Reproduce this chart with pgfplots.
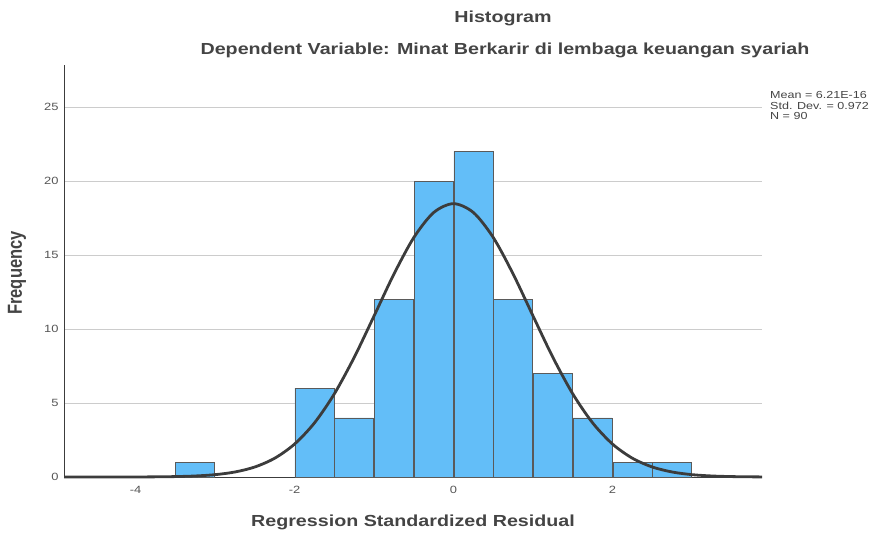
\documentclass[border=0pt]{standalone}
\usepackage{pgfplots}
\pgfplotsset{compat=1.18}
\usepackage{fontspec}
\setmainfont{Liberation Sans}[FakeStretch=1.23]
\newfontfamily\plainfont{Liberation Sans}
\definecolor{barblue}{HTML}{63BEF8}
\definecolor{baredge}{HTML}{5A5A5A}
\definecolor{curvegray}{HTML}{3C3C3C}
\definecolor{txtgray}{HTML}{444444}
\definecolor{ticktxt}{HTML}{555555}
\definecolor{gridgray}{HTML}{CCCCCC}
\begin{document}
\begin{tikzpicture}
\useasboundingbox (0pt,0pt) rectangle (874pt,536pt);
\begin{axis}[
  at={(64pt,59pt)}, anchor=south west,
  scale only axis, width=698pt, height=412pt,
  xmin=-4.9, xmax=3.88, ymin=0, ymax=27.84,
  axis x line*=bottom, axis y line*=left,
  axis line style={-, draw=curvegray, line width=0.8pt},
  xtick={-4,-2,0,2}, ytick={0,5,10,15,20,25},
  major tick length=0pt,
  ymajorgrids, grid style={draw=gridgray, line width=0.6pt},
  /pgf/number format/assume math mode=true,
  ticklabel style={font=\fontsize{10.5}{12}\selectfont, text=ticktxt},
  xticklabel style={yshift=-6pt},
  yticklabel style={xshift=-2pt},
  clip=false,
]
\addplot[ybar, bar width=0.49, fill=barblue, draw=baredge, line width=0.6pt] coordinates {
  (-3.25,1) (-1.75,6) (-1.25,4) (-0.75,12) (-0.25,20) (0.25,22)
  (0.75,12) (1.25,7) (1.75,4) (2.25,1) (2.75,1)
};
\addplot[smooth, draw=curvegray, line width=2.8pt] coordinates {
  (-4.9,0) (-4.5,0.0001) (-4,0.0039) (-3.75,0.0108) (-3.5,0.0283) (-3.25,0.069)
  (-3,0.158) (-2.75,0.338) (-2.5,0.676) (-2.25,1.268) (-2,2.224) (-1.75,3.653)
  (-1.5,5.615) (-1.25,8.079) (-1,10.88) (-0.75,13.71) (-0.5,16.18) (-0.25,17.87)
  (0,18.47) (0.25,17.87) (0.5,16.18) (0.75,13.71) (1,10.88) (1.25,8.079)
  (1.5,5.615) (1.75,3.653) (2,2.224) (2.25,1.268) (2.5,0.676) (2.75,0.338)
  (3,0.158) (3.25,0.069) (3.5,0.0283) (3.75,0.0108) (3.88,0.006)
};
\end{axis}
\node[font=\fontsize{16}{19}\selectfont\bfseries, text=txtgray] at (503pt,518pt) {Histogram};
\node[font=\fontsize{16}{19}\selectfont\bfseries, text=txtgray] at (505pt,486pt) {Dependent Variable: Minat Berkarir di lembaga keuangan syariah};
\node[font=\fontsize{16}{19}\selectfont\bfseries, text=txtgray] at (413pt,14pt) {Regression Standardized Residual};
\node[text=txtgray] at (17pt,263pt) {\rotatebox{90}{\scalebox{1}[1.23]{\plainfont\fontsize{16.5}{19}\selectfont\bfseries Frequency}}};
\node[anchor=north west, align=left, inner sep=0pt, text=txtgray, font=\fontsize{10.2}{10.8}\selectfont] at (770pt,445pt) {Mean = 6.21E-16\\Std. Dev. = 0.972\\N = 90};
\end{tikzpicture}
\end{document}
